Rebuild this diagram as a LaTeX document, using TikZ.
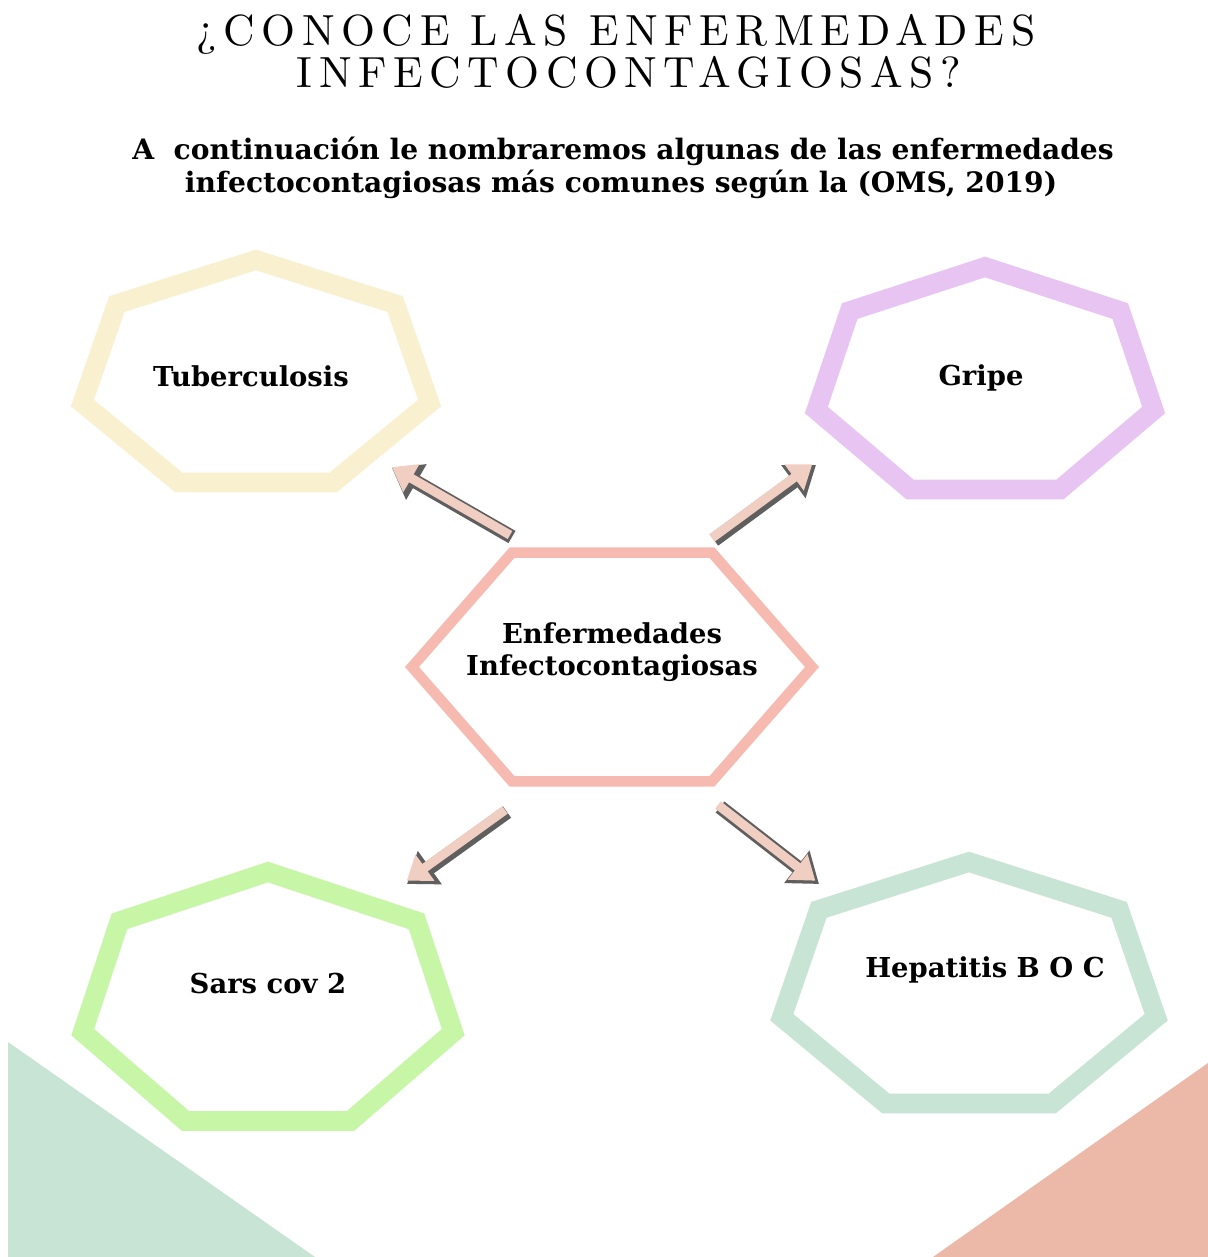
\documentclass[tikz,border=0pt]{standalone}
\usepackage{fontspec}
\usetikzlibrary{arrows.meta}

\newfontfamily\labelfont{DejaVu Serif}
\newfontfamily\titlefont{lmroman10-regular.otf}[LetterSpace=15]

\definecolor{tbyellow}{RGB}{248,240,206}
\definecolor{gripelilac}{RGB}{232,196,243}
\definecolor{sarsgreen}{RGB}{198,246,166}
\definecolor{hepgreen}{RGB}{200,228,212}
\definecolor{hubpink}{RGB}{246,186,176}
\definecolor{cornersalmon}{RGB}{236,184,168}
\definecolor{arrowpink}{RGB}{240,206,194}
\definecolor{arrowgray}{RGB}{95,95,95}

\begin{document}
\begin{tikzpicture}[x=0.025cm,y=-0.025cm,
  ring/.style={line width=14pt, line join=miter},
  disease/.style={font=\labelfont\bfseries\fontsize{19.5}{23}\selectfont, align=center},
  heading/.style={anchor=base, font=\titlefont\fontsize{31}{30}\selectfont},
  arrowshade/.style={draw=arrowgray, line width=10pt, -{Triangle[length=20pt,width=28pt]}},
  arrowbody/.style={draw=arrowpink, line width=6.5pt, -{Triangle[length=16pt,width=22pt]}, shorten >=1.5pt}]

\useasboundingbox[fill=white] (0,0) rectangle (1208,1257);

% Corner triangles
\fill[hepgreen] (8,1042) -- (8,1257) -- (315,1257) -- cycle;
\fill[cornersalmon] (1208,1063) -- (1208,1257) -- (933,1257) -- cycle;

% Title
\node[heading] (title1) at (616,45) {¿CONOCE LAS ENFERMEDADES};
\node[heading] (title2) at (629,87) {INFECTOCONTAGIOSAS?};

% Subtitle
\node[anchor=base, font=\labelfont\bfseries\fontsize{20}{24}\selectfont] (sub1) at (623,159) {A\ \ continuación le nombraremos algunas de las enfermedades};
\node[anchor=base, font=\labelfont\bfseries\fontsize{20}{24}\selectfont] (sub2) at (621,192) {infectocontagiosas más comunes según la (OMS, 2019)};

% Heptagons (squashed)
\draw[ring, draw=tbyellow, shift={(256,377)}] (-90:178 and 117)
  \foreach \k in {1,...,6} { -- ({-90+\k*360/7}:178 and 117) } -- cycle;
\draw[ring, draw=gripelilac, shift={(985,384)}] (-90:173 and 117)
  \foreach \k in {1,...,6} { -- ({-90+\k*360/7}:173 and 117) } -- cycle;
\draw[ring, draw=sarsgreen, shift={(268,1003)}] (-90:190 and 131)
  \foreach \k in {1,...,6} { -- ({-90+\k*360/7}:190 and 131) } -- cycle;
\draw[ring, draw=hepgreen, shift={(969,989)}] (-90:192 and 127)
  \foreach \k in {1,...,6} { -- ({-90+\k*360/7}:192 and 127) } -- cycle;

% Central hexagon
\draw[line width=7.5pt, draw=hubpink, line join=miter, shift={(612,667)}] (0:200 and 132)
  \foreach \k in {1,...,5} { -- ({\k*60}:200 and 132) } -- cycle;

% Labels
\node[disease] (tb) at (251,376) {Tuberculosis};
\node[disease] (gripe) at (981,378) {Gripe};
\node[disease] (hub) at (612,652) {Enfermedades\\Infectocontagiosas};
\node[disease] (sars) at (268,984) {Sars cov 2};
\node[disease] (hep) at (985,970) {Hepatitis B O C};

% Arrow ends
\coordinate (hub-nw) at (510,535);
\coordinate (hub-ne) at (712,538);
\coordinate (hub-sw) at (505,810);
\coordinate (hub-se) at (718,805);
\coordinate (tb-in) at (390,466);
\coordinate (gripe-in) at (814,463);
\coordinate (sars-in) at (405,882);
\coordinate (hep-in) at (817,882);

% Arrows
\foreach \a/\b in {hub-nw/tb-in, hub-ne/gripe-in, hub-sw/sars-in, hub-se/hep-in}{
  \draw[arrowshade, transform canvas={shift={(2,2)}}] (\a) -- (\b);
  \draw[arrowbody] (\a) -- (\b);
}

\end{tikzpicture}
\end{document}
